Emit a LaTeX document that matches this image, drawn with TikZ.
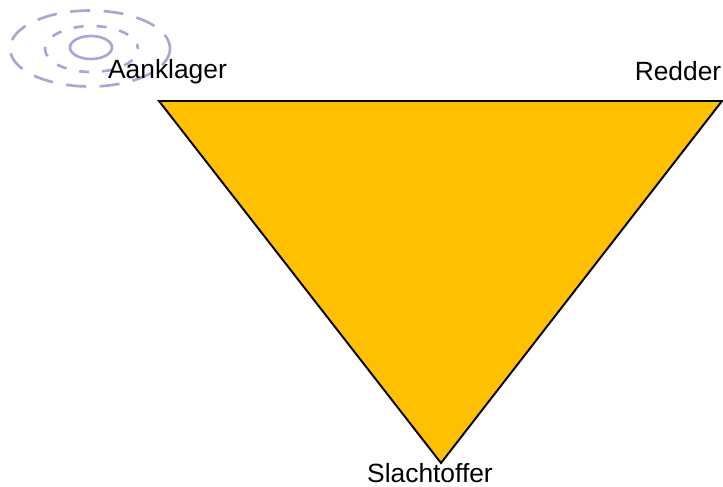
\documentclass[tikz,border=0pt]{standalone}
\usepackage{xcolor}
\usepackage{fontspec}
\setmainfont{Liberation Sans}
\usetikzlibrary{positioning}
\definecolor{triangle}{HTML}{FFC000}
\definecolor{ripple}{HTML}{A9A6D6}

\begin{document}
\begin{tikzpicture}[
    role/.style={inner sep=0pt, font=\fontsize{15}{18}\selectfont, text=black},
    drama/.style={draw=black, fill=triangle, line width=1.1pt, line join=miter},
    wave/.style={draw=ripple, line width=1.5pt, dash pattern=on 0.4cm off 0.27cm, dash phase=0.1cm},
    smallwave/.style={draw=ripple, line width=1.5pt, dash pattern=on 0.2cm off 0.26cm, dash phase=0.1cm},
    core/.style={draw=ripple, line width=1.5pt}
]
\useasboundingbox (0,0) rectangle (14.46,-9.72);

% ripples
\draw[wave] (1.8,-0.97) ellipse [x radius=1.6, y radius=0.76];
\draw[smallwave] (1.83,-0.98) ellipse [x radius=0.93, y radius=0.46];
\draw[core] (1.82,-0.95) ellipse [x radius=0.42, y radius=0.23];

% triangle
\coordinate (aanklagerhoek) at (3.18,-2.02);
\coordinate (redderhoek) at (14.44,-2.02);
\coordinate (slachtofferhoek) at (8.82,-9.26);
\draw[drama] (aanklagerhoek) -- (redderhoek) -- (slachtofferhoek) -- cycle;

% labels
\node[role] (aanklager) at (3.35,-1.44) {Aanklager};
\node[role] (redder) at (13.56,-1.43) {Redder};
\node[role] (slachtoffer) at (8.6,-9.47) {Slachtoffer};
\end{tikzpicture}
\end{document}
